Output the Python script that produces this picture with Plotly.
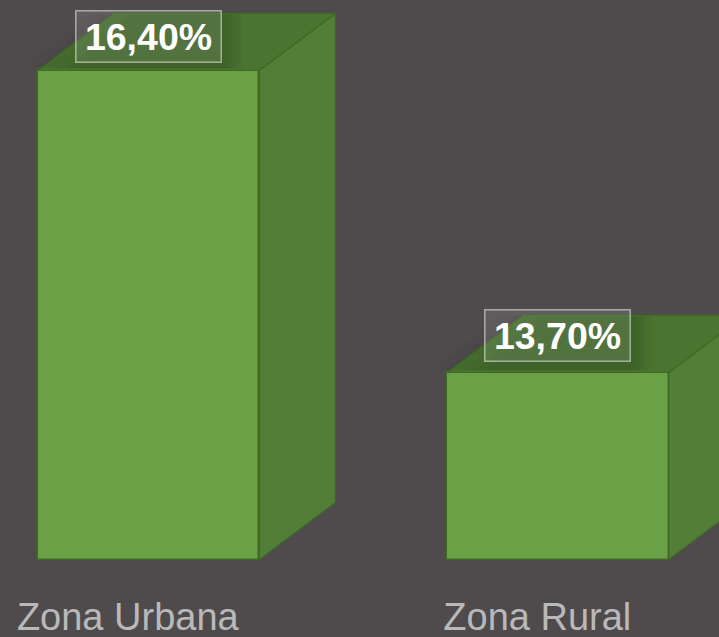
import plotly.graph_objects as go

categories = ["Zona Urbana", "Zona Rural"]
values = [16.40, 13.70]
value_labels = ["16,40%", "13,70%"]
label_shift = [34.5, 36.5]
axis_base = 12.028

BG = "#4f4b4d"
FRONT = "#6ba146"
SIDE = "#527e38"
TOP = "#4a7430"
EDGE = "#3f6a25"
BAR_W = 0.5415
DX = 0.1856   # depth along x, axis units
DY = 0.51     # depth along y, axis units
LABEL_OFF = -0.0505

fig = go.Figure()
fig.add_trace(go.Bar(
    x=list(range(len(values))),
    y=[v - axis_base for v in values],
    base=axis_base,
    width=BAR_W,
    marker=dict(color=FRONT, line=dict(color=EDGE, width=1.5)),
    hoverinfo="skip",
))

def poly(xs, ys, fill, edge=EDGE, w=1.2):
    fig.add_trace(go.Scatter(
        x=xs, y=ys, mode="lines", fill="toself", fillcolor=fill,
        line=dict(color=edge, width=w), hoverinfo="skip",
    ))

for i, v in enumerate(values):
    l, r = i - BAR_W / 2, i + BAR_W / 2
    poly([r, r + DX, r + DX, r, r], [v, v + DY, axis_base + DY, axis_base, v], SIDE)
    poly([l, l + DX, r + DX, r, l], [v, v + DY, v + DY, v, v], TOP)
    # soft shadow of the value label, fading out towards the left of the top face
    for k in range(6):
        px = (k + 1) * 3.5 / 409.5
        hw = 0.178 + px
        y0, y1 = v + 0.02, v + 0.5
        left = i - 0.20 + 0.025 * (5 - k)
        fig.add_trace(go.Scatter(
            x=[left - 0.1, i + hw, i + hw, left + 0.05, left - 0.1],
            y=[y0, y0, y1, y1, y0], mode="lines", fill="toself",
            fillcolor="rgba(30,40,25,0.03)", line=dict(width=0), hoverinfo="skip",
        ))

for i, (v, t) in enumerate(zip(values, value_labels)):
    fig.add_annotation(
        x=i, y=v, yshift=label_shift[i], text=f"<b>{t}</b>", showarrow=False,
        font=dict(family="Liberation Sans", size=37.5, color="#ffffff"),
        width=144, height=50, borderpad=0, bgcolor="rgba(255,255,255,0.1)",
        bordercolor="rgba(255,255,255,0.5)", borderwidth=1.5,
        xanchor="center", yanchor="middle", align="center", valign="middle",
    )

fig.update_layout(
    width=719, height=637, autosize=False,
    margin=dict(l=0, r=0, t=0, b=46, pad=0),
    paper_bgcolor=BG, plot_bgcolor=BG, showlegend=False, bargap=0,
    xaxis=dict(
        range=[-0.3626, 1.3932], showgrid=False, zeroline=False, showline=False,
        tickmode="array", tickvals=[i + LABEL_OFF for i in range(len(categories))],
        ticktext=categories, ticklen=0, ticks="",
        tickfont=dict(family="Liberation Sans", size=38, color="#b9b9b9"),
        automargin=False,
    ),
    yaxis=dict(range=[11.7464, 17.0303], visible=False, automargin=False),
)
fig.write_html(
    "out.html",
    config={"displayModeBar": False},
    post_script="document.documentElement.style.cssText='margin:0;padding:0;overflow:hidden;background:#4f4b4d';"
                "document.body.style.cssText='margin:0;padding:0;overflow:hidden;background:#4f4b4d';",
)
